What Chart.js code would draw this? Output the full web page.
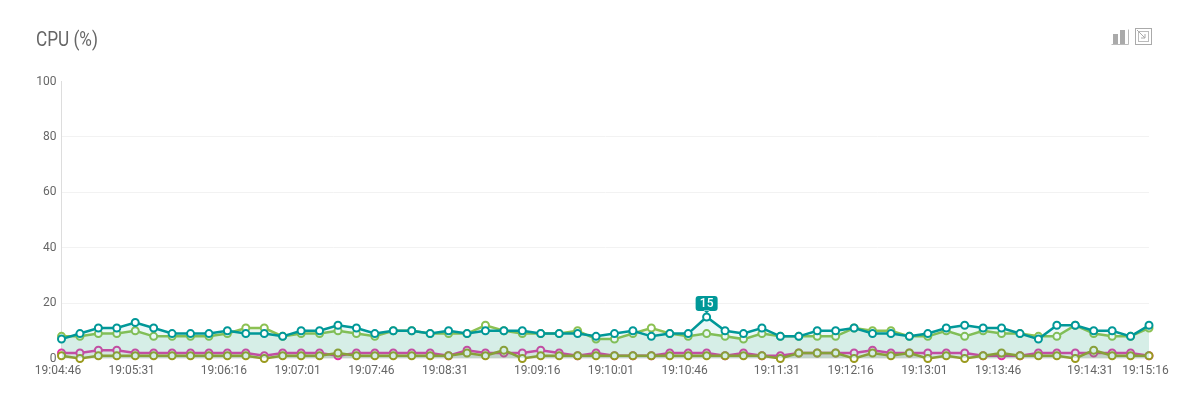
<!DOCTYPE html>
<html>
<head>
<meta charset="utf-8">
<title>CPU (%)</title>
<script src="https://cdn.jsdelivr.net/npm/chart.js@4/dist/chart.umd.min.js"></script>
<style>
  html, body { margin: 0; padding: 0; background: #fff; overflow: hidden; }
  #wrap { position: relative; width: 1189px; height: 393px; }
  #title { position: absolute; left: 36px; top: 27px; font: 400 20px Roboto, sans-serif; color: #666; transform: scaleX(0.86); transform-origin: left top; white-space: nowrap; }
  #icons { position: absolute; left: 1111px; top: 27px; }
</style>
</head>
<body>
<div id="wrap">
  <canvas id="cpuChart" width="1189" height="393"></canvas>
  <div id="title">CPU (%)</div>
  <svg id="icons" width="42" height="20" fill="none">
    <path d="M0.5 17.5h17M17.5 17.5V2.5" stroke="#bbb"/>
    <rect x="2" y="7" width="5" height="10" fill="#aaa"/>
    <rect x="9" y="3" width="5" height="14" fill="#aaa"/>
    <rect x="24.5" y="1.5" width="16" height="16" stroke="#aaa"/>
    <rect x="27.5" y="4.5" width="10" height="10" stroke="#bbb"/>
    <path d="M26 3l8 8M34 7v4h-4" stroke="#aaa"/>
  </svg>
</div>
<script>
const tickLabels = ['19:04:46', '19:05:31', '19:06:16', '19:07:01', '19:07:46', '19:08:31', '19:09:16', '19:10:01', '19:10:46', '19:11:31', '19:12:16', '19:13:01', '19:13:46', '19:14:31', '19:15:16'];
const tickPoints = [0, 4, 9, 13, 17, 21, 26, 30, 34, 39, 43, 47, 51, 56, 59];
const yTicks = [0, 20, 40, 60, 80, 100];

const teal = [7, 9, 11, 11, 13, 11, 9, 9, 9, 10, 9, 9, 8, 10, 10, 12, 11, 9, 10, 10, 9, 10, 9, 10, 10, 10, 9, 9, 9, 8, 9, 10, 8, 9, 9, 15, 10, 9, 11, 8, 8, 10, 10, 11, 9, 9, 8, 9, 11, 12, 11, 11, 9, 7, 12, 12, 10, 10, 8, 12];
const green = [8, 8, 9, 9, 10, 8, 8, 8, 8, 9, 11, 11, 8, 9, 9, 10, 9, 8, 10, 10, 9, 9, 9, 12, 10, 9, 9, 9, 10, 7, 7, 9, 11, 9, 8, 9, 8, 7, 9, 8, 8, 8, 8, 11, 10, 10, 8, 8, 10, 8, 10, 9, 9, 8, 8, 12, 9, 8, 8, 11];
const pink = [2, 2, 3, 3, 2, 2, 2, 2, 2, 2, 2, 1, 2, 2, 2, 1, 2, 2, 2, 2, 2, 1, 3, 2, 2, 2, 3, 2, 1, 2, 1, 1, 1, 2, 2, 2, 1, 2, 1, 1, 2, 2, 2, 2, 3, 2, 2, 2, 2, 2, 1, 1, 1, 2, 2, 2, 2, 2, 2, 1];
const olive = [1, 0, 1, 1, 1, 1, 1, 1, 1, 1, 1, 0, 1, 1, 1, 2, 1, 1, 1, 1, 1, 1, 2, 1, 3, 0, 1, 1, 1, 1, 1, 1, 1, 1, 1, 1, 1, 1, 1, 0, 2, 2, 2, 0, 2, 1, 2, 0, 1, 0, 1, 2, 1, 1, 1, 0, 3, 1, 1, 1];

const categories = teal.map((v, i) => {
  const at = tickPoints.indexOf(i);
  return at >= 0 ? tickLabels[at] : '';
});

function series(data, color, fill) {
  return {
    data,
    borderColor: color,
    backgroundColor: fill,
    fill: 'origin',
    borderWidth: 2.5,
    tension: 0,
    clip: false,
    pointRadius: 3.5,
    pointBorderWidth: 2,
    pointBackgroundColor: '#fff',
    pointBorderColor: color
  };
}

// little flag over the highest point of the teal line
const peakFlag = {
  id: 'peakFlag',
  afterDatasetsDraw(chart) {
    const { ctx, scales } = chart;
    const top = Math.max(...teal);
    const x = scales.x.getPixelForValue(teal.indexOf(top));
    const y = scales.y.getPixelForValue(top);
    ctx.save();
    ctx.fillStyle = '#009898';
    ctx.beginPath();
    ctx.roundRect(x - 11, y - 21, 22, 15, 3);
    ctx.moveTo(x - 3, y - 6.5);
    ctx.lineTo(x, y - 3.5);
    ctx.lineTo(x + 3, y - 6.5);
    ctx.fill();
    ctx.fillStyle = '#fff';
    ctx.font = '500 12px Roboto';
    ctx.textAlign = 'center';
    ctx.textBaseline = 'middle';
    ctx.fillText(String(top), x, y - 13);
    ctx.restore();
  }
};

// first dataset ends up on top
new Chart(document.getElementById('cpuChart'), {
  type: 'line',
  data: {
    labels: categories,
    datasets: [
      series(teal, '#009898', 'rgba(0,170,170,0.08)'),
      series(green, '#8cc152', 'rgba(120,190,140,0.17)'),
      series(olive, '#9a9a1e', 'rgba(120,120,60,0.20)'),
      series(pink, '#e62fa8', 'rgba(226,63,169,0.04)')
    ]
  },
  options: {
    responsive: false,
    animation: false,
    layout: { padding: { top: 81.5, right: 40 } },
    plugins: { legend: { display: false }, tooltip: { enabled: false } },
    scales: {
      x: {
        offset: false,
        grid: { display: false },
        border: { display: false },
        afterFit(scale) { scale.height = 34.5; },
        ticks: {
          autoSkip: false,
          maxRotation: 0,
          minRotation: 0,
          padding: -3,
          labelOffset: -3.5,
          color: '#666',
          font: { family: 'Roboto', size: 12 }
        }
      },
      y: {
        min: 0,
        max: 100,
        afterFit(scale) { scale.width = 61.5; },
        afterBuildTicks(scale) { scale.ticks = yTicks.map(value => ({ value })); },
        grid: { color: ctx => (ctx.tick.value === 100 ? 'transparent' : '#f2f2f2'), drawTicks: false },
        border: { color: '#ddd' },
        ticks: {
          padding: 5,
          color: '#666',
          font: { family: 'Roboto', size: 12 }
        }
      }
    }
  },
  plugins: [peakFlag]
});
</script>
</body>
</html>
